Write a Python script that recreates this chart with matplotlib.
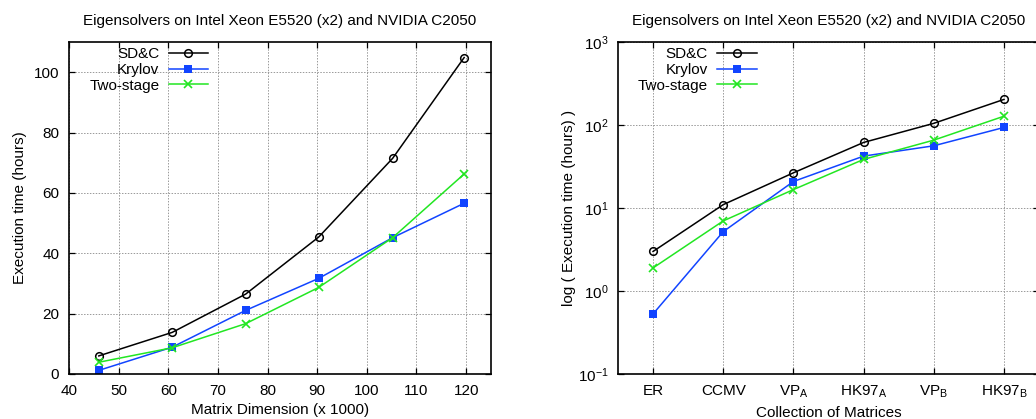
import matplotlib.pyplot as plt
import numpy as np

# ---- data: left panel (linear) ----
dims = [46.0, 60.8, 75.6, 90.3, 105.2, 119.6]
sdc_lin = [6.0, 13.8, 26.5, 45.4, 71.5, 104.9]
kry_lin = [1.2, 8.9, 21.1, 31.7, 45.2, 56.6]
two_lin = [3.9, 8.7, 16.7, 28.7, 45.2, 66.3]

# ---- data: right panel (log) ----
matrices = ['ER', 'CCMV', r'VP$_\mathregular{A}$', r'HK97$_\mathregular{A}$',
            r'VP$_\mathregular{B}$', r'HK97$_\mathregular{B}$']
sdc_log = [3.0, 11.0, 26.6, 61.8, 105.0, 204.0]
kry_log = [0.53, 5.2, 20.9, 42.3, 56.3, 93.7]
two_log = [1.9, 7.0, 16.7, 38.6, 65.9, 128.0]

title = 'Eigensolvers on Intel Xeon E5520 (x2) and NVIDIA C2050'

plt.rcParams['font.family'] = ['Liberation Sans', 'DejaVu Sans']
plt.rcParams['font.size'] = 11
plt.rcParams['mathtext.fontset'] = 'custom'
plt.rcParams['mathtext.rm'] = 'Liberation Sans'
plt.rcParams['mathtext.it'] = 'Liberation Sans:italic'

c_sdc = 'black'
c_kry = '#1144ff'
c_two = '#22e622'

fig = plt.figure(figsize=(10.36, 4.19), dpi=100)
ax1 = fig.add_axes([0.0666, 0.1074, 0.4073, 0.792])
ax2 = fig.add_axes([0.5965, 0.1074, 0.4064, 0.792])


def draw(ax, x, s, k, t):
    ax.plot(x, s, color=c_sdc, lw=1.1, marker='o', ms=5.5, mfc='none', mew=1.1, label='SD&C')
    ax.plot(x, k, color=c_kry, lw=1.1, marker='s', ms=5.5, mew=0, label='Krylov')
    ax.plot(x, t, color=c_two, lw=1.1, marker='x', ms=5.5, mew=1.2, label='Two-stage')
    ax.grid(True, color='#999999', linestyle=(0, (1.5, 1.5)), linewidth=0.7)
    ax.set_axisbelow(True)
    ax.tick_params(direction='in', top=True, right=True, length=4, width=0.9, pad=7)
    for sp in ax.spines.values():
        sp.set_linewidth(1.2)
    ax.set_title(title, fontsize=11, pad=12)
    ax.legend(loc='upper right', bbox_to_anchor=(0.33, 0.985), markerfirst=False,
              frameon=False, borderaxespad=0, borderpad=0, handlelength=2.6,
              handletextpad=0.6, labelspacing=0.12, fontsize=11)


draw(ax1, dims, sdc_lin, kry_lin, two_lin)
ax1.set_xlim(40, 125)
ax1.set_ylim(0, 110)
ax1.set_xticks(np.arange(40, 121, 10))
ax1.set_yticks(np.arange(0, 101, 20))
ax1.set_xlabel('Matrix Dimension (x 1000)', labelpad=4)
ax1.set_ylabel('Execution time (hours)', labelpad=5)

xpos = np.arange(1, len(matrices) + 1)
draw(ax2, xpos, sdc_log, kry_log, two_log)
ax2.set_yscale('log')
ax2.set_ylim(0.1, 1000)
ax2.minorticks_off()
ax2.set_xlim(0.5, 6.5)
ax2.set_xticks(xpos)
ax2.set_xticklabels(matrices)
ax2.set_xlabel('Collection of Matrices', labelpad=4)
ax2.set_ylabel('log ( Execution time (hours) )', labelpad=1)

fig.savefig('out.png', dpi=100)
